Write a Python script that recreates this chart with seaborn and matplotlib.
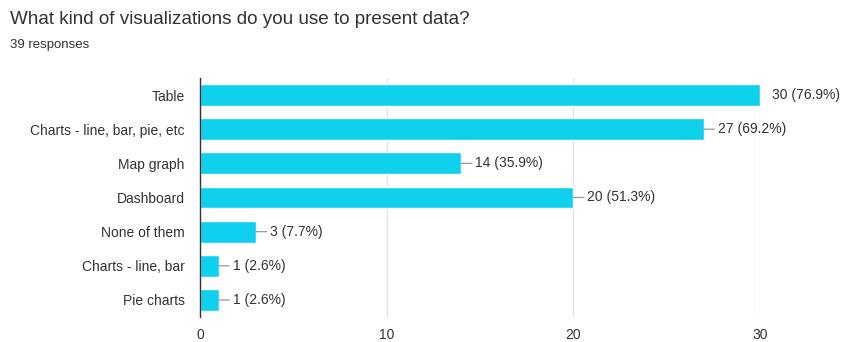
import matplotlib
matplotlib.use("Agg")
import matplotlib.pyplot as plt
import seaborn as sns
import pandas as pd

categories = ["Table", "Charts - line, bar, pie, etc", "Map graph", "Dashboard",
              "None of them", "Charts - line, bar", "Pie charts"]
counts = [30, 27, 14, 20, 3, 1, 1]
total = 39
x_ticks = [0, 10, 20, 30]

sns.set_theme(style="white")
plt.rcParams['font.family'] = ['Liberation Sans', 'DejaVu Sans']

df = pd.DataFrame({"category": categories, "count": counts})

fig = plt.figure(figsize=(8.42, 3.42), dpi=100)
ax = fig.add_axes([200/842, 1-317/342, 560/842, 239/342])

sns.barplot(data=df, x="count", y="category", orient="h", color="#0FD1EE",
            saturation=1, width=0.64, ax=ax)

ax.set_xlim(0, 30)
ax.set_xticks(x_ticks)
ax.set_xlabel("")
ax.set_ylabel("")
ax.grid(axis="x", color="#e3e3e3", linewidth=0.9)
ax.set_axisbelow(True)
for s in ["top", "right", "bottom"]:
    ax.spines[s].set_visible(False)
ax.spines["left"].set_color("#333333")
ax.spines["left"].set_linewidth(1.0)
ax.tick_params(axis="y", length=0, labelsize=10, colors="#333333", pad=11)
ax.tick_params(axis="x", length=0, labelsize=10, colors="#333333", pad=8)

xmax = ax.get_xlim()[1]
for i, v in enumerate(counts):
    label = f"{v} ({v / total * 100:.1f}%)"
    if v >= xmax:
        ax.annotate(label, xy=(v, i), xytext=(9, 0), textcoords="offset points",
                    va="center", ha="left", fontsize=10, color="#333333",
                    annotation_clip=False)
    else:
        ax.annotate(label, xy=(v, i), xytext=(10, 0), textcoords="offset points",
                    va="center", ha="left", fontsize=10, color="#333333",
                    annotation_clip=False,
                    arrowprops=dict(arrowstyle="-", color="#9a9a9a", lw=0.9,
                                    shrinkA=0, shrinkB=0))

fig.text(10/842, 1-20/342, "What kind of visualizations do you use to present data?",
         fontsize=13.6, color="#333333", va="center", ha="left")
fig.text(10/842, 1-45/342, "39 responses", fontsize=9.5, color="#333333",
         va="center", ha="left")

fig.savefig("out.png", dpi=100)
